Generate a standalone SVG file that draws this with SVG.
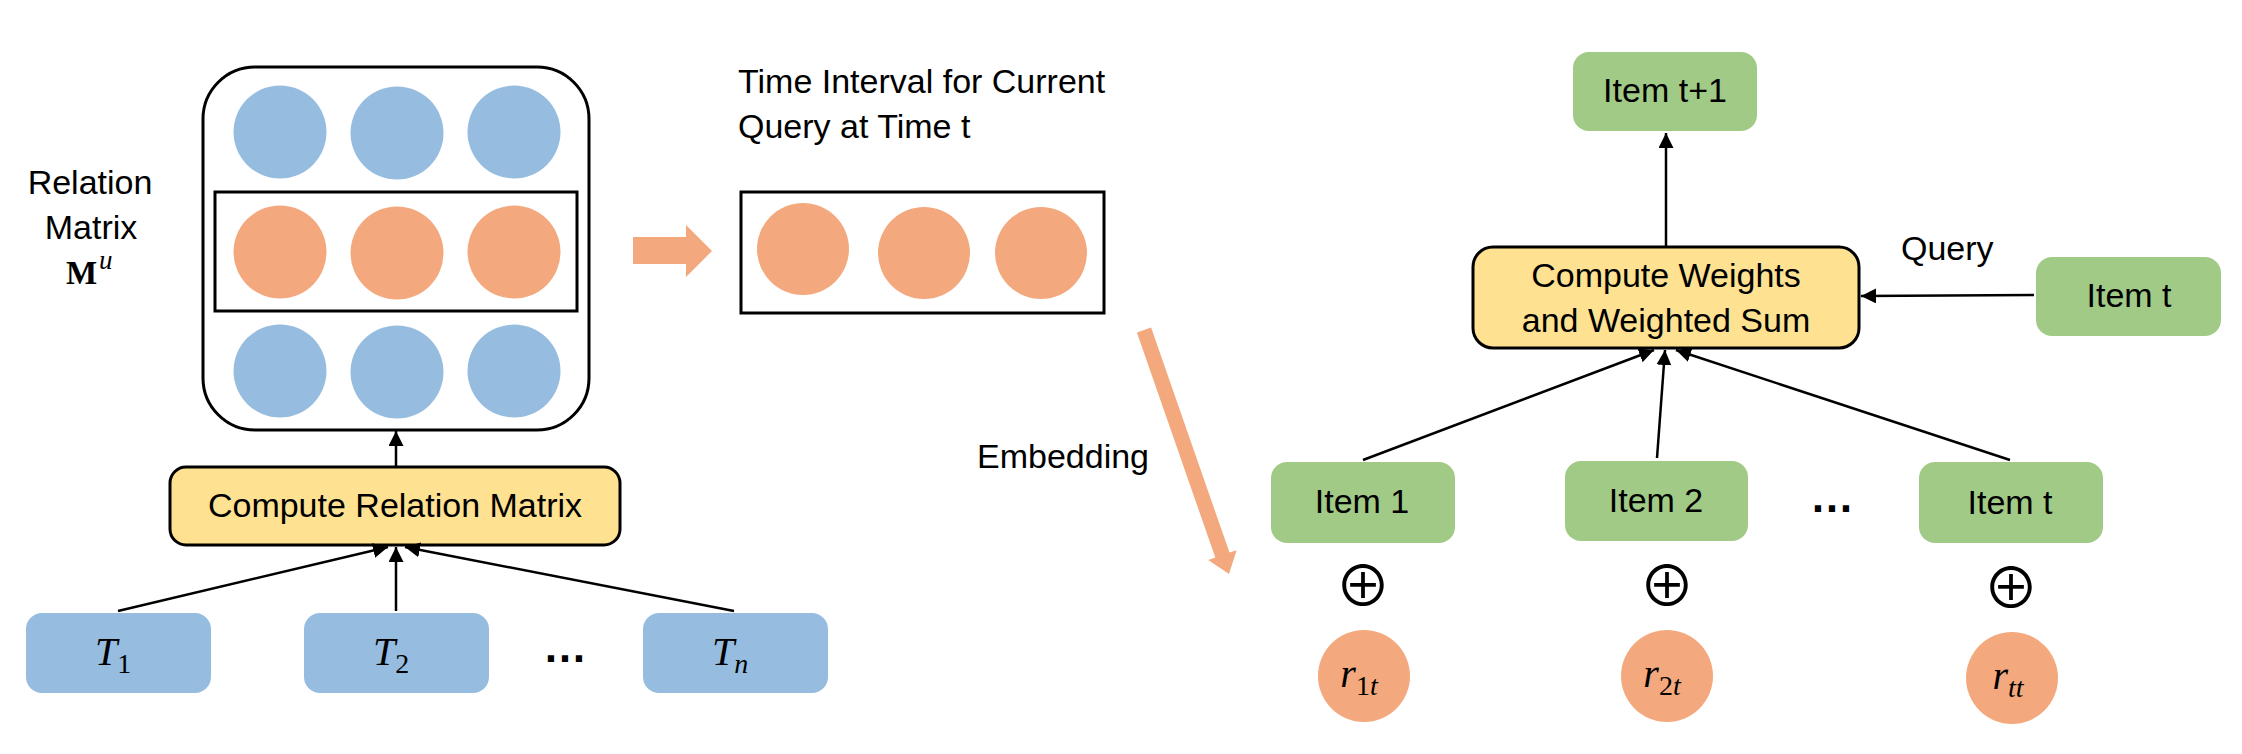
<svg xmlns="http://www.w3.org/2000/svg" width="2242" height="754" viewBox="0 0 2242 754">
<defs>
<style>
.lbl{font-family:"Liberation Sans",Arial,sans-serif;font-size:34px;fill:#000}
.mid{text-anchor:middle}
.mi{font-family:"Liberation Serif","Times New Roman",serif;font-style:italic;font-size:40px;fill:#000}
.up{font-style:normal}
.sub{font-size:28px}
.blue{fill:#96BDE0}
.org{fill:#F3A97D}
.grn{fill:#A2CA87}
.yel{fill:#FEE191;stroke:#000;stroke-width:3}
.frame{fill:none;stroke:#000;stroke-width:3}
.conn{stroke:#000;stroke-width:2.5;fill:none;marker-end:url(#ah)}
.dots{font-family:"Liberation Sans",Arial,sans-serif;font-weight:bold;font-size:44px;text-anchor:middle}
.oplus{font-family:"Noto Sans CJK JP","DejaVu Sans",sans-serif;font-size:56px;text-anchor:middle}
</style>
<marker id="ah" markerUnits="userSpaceOnUse" markerWidth="16" markerHeight="16" refX="15" refY="7.5" orient="auto">
<path d="M0,0 L15,7.5 L0,15 z" fill="#000"/>
</marker>
</defs>
<rect width="2242" height="754" fill="#fff"/>

<g id="relation-label">
<text class="lbl mid" x="90" y="194">Relation</text>
<text class="lbl mid" x="91" y="239">Matrix</text>
<text x="66" y="284" font-family="Liberation Serif,serif" font-weight="bold" font-size="33">M</text>
<text x="99" y="269" class="mi" style="font-size:27px">u</text>
</g>

<g id="relation-matrix">
<rect x="203" y="67" width="386" height="363" rx="52" fill="#fff" stroke="#000" stroke-width="3"/>
<circle class="blue" cx="280" cy="132" r="46.5"/>
<circle class="blue" cx="397" cy="133" r="46.5"/>
<circle class="blue" cx="514" cy="132" r="46.5"/>
<rect class="frame" x="215" y="192" width="362" height="119"/>
<circle class="org" cx="280" cy="252" r="46.5"/>
<circle class="org" cx="397" cy="253" r="46.5"/>
<circle class="org" cx="514" cy="252" r="46.5"/>
<circle class="blue" cx="280" cy="371" r="46.5"/>
<circle class="blue" cx="397" cy="372" r="46.5"/>
<circle class="blue" cx="514" cy="371" r="46.5"/>
</g>

<g id="compute-relation">
<rect class="yel" x="170" y="467" width="450" height="78" rx="16"/>
<text class="lbl mid" x="395" y="517">Compute Relation Matrix</text>
</g>

<g id="T1">
<rect class="blue" x="26" y="613" width="185" height="80" rx="16"/>
<text class="mi mid" x="113" y="665">T<tspan class="up sub" dy="8">1</tspan></text>
</g>
<g id="T2">
<rect class="blue" x="304" y="613" width="185" height="80" rx="16"/>
<text class="mi mid" x="391" y="665">T<tspan class="up sub" dy="8">2</tspan></text>
</g>
<text id="dots-left" class="dots" x="565" y="662">…</text>
<g id="Tn">
<rect class="blue" x="643" y="613" width="185" height="80" rx="16"/>
<text class="mi mid" x="730" y="665">T<tspan class="sub" dy="8">n</tspan></text>
</g>

<g id="block-arrow">
<polygon class="org" points="633,237 686,237 686,225 712,251 686,277 686,264 633,264"/>
</g>

<g id="interval-label">
<text class="lbl" x="738" y="93">Time Interval for Current</text>
<text class="lbl" x="738" y="138">Query at Time t</text>
</g>

<g id="interval-vector">
<rect class="frame" x="741" y="192" width="363" height="121" fill="#fff"/>
<circle class="org" cx="803" cy="249" r="46"/>
<circle class="org" cx="924" cy="253" r="46"/>
<circle class="org" cx="1041" cy="253" r="46"/>
</g>

<g id="embedding-arrow">
<polygon class="org" points="1151.1,327.5 1229.5,552.6 1236.6,550.2 1229,574 1208.2,560 1215.3,557.6 1136.9,332.5"/>
<text class="lbl" x="977" y="468">Embedding</text>
</g>

<g id="item-t1">
<rect class="grn" x="1573" y="52" width="184" height="79" rx="16"/>
<text class="lbl mid" x="1665" y="102">Item t+1</text>
</g>

<g id="compute-weights">
<rect class="yel" x="1473" y="247" width="386" height="101" rx="20"/>
<text class="lbl mid" x="1666" y="287">Compute Weights</text>
<text class="lbl mid" x="1666" y="332">and Weighted Sum</text>
</g>

<g id="query-item">
<rect class="grn" x="2036" y="257" width="185" height="79" rx="16"/>
<text class="lbl mid" x="2129" y="307">Item t</text>
</g>
<text id="query-label" class="lbl" x="1901" y="260">Query</text>

<g id="item1">
<rect class="grn" x="1271" y="462" width="184" height="81" rx="16"/>
<text class="lbl mid" x="1362" y="513">Item 1</text>
</g>
<g id="item2">
<rect class="grn" x="1565" y="461" width="183" height="80" rx="16"/>
<text class="lbl mid" x="1656" y="512">Item 2</text>
</g>
<text id="dots-right" class="dots" x="1832" y="512">…</text>
<g id="itemt">
<rect class="grn" x="1919" y="462" width="184" height="81" rx="16"/>
<text class="lbl mid" x="2010" y="514">Item t</text>
</g>

<g id="oplus">
<text class="oplus" x="1363" y="606">⊕</text>
<text class="oplus" x="1667" y="606">⊕</text>
<text class="oplus" x="2011" y="608">⊕</text>
</g>

<g id="r1t">
<circle class="org" cx="1364" cy="676" r="46"/>
<text class="mi mid" x="1359" y="687">r<tspan class="sub" dy="8"><tspan class="up">1</tspan>t</tspan></text>
</g>
<g id="r2t">
<circle class="org" cx="1667" cy="676" r="46"/>
<text class="mi mid" x="1662" y="687">r<tspan class="sub" dy="8"><tspan class="up">2</tspan>t</tspan></text>
</g>
<g id="rtt">
<circle class="org" cx="2012" cy="678" r="46"/>
<text class="mi mid" x="2008" y="689">r<tspan class="sub" dy="8">tt</tspan></text>
</g>

<g id="connectors">
<line class="conn" x1="396" y1="467" x2="396" y2="431"/>
<line class="conn" x1="118" y1="611" x2="388" y2="547"/>
<line class="conn" x1="396" y1="611" x2="396" y2="547"/>
<line class="conn" x1="734" y1="611" x2="405" y2="547"/>
<line class="conn" x1="1666" y1="247" x2="1666" y2="133"/>
<line class="conn" x1="2034" y1="295" x2="1861" y2="296"/>
<line class="conn" x1="1363" y1="460" x2="1654" y2="350"/>
<line class="conn" x1="1657" y1="458" x2="1665" y2="350"/>
<line class="conn" x1="2010" y1="460" x2="1676" y2="350"/>
</g>
</svg>
